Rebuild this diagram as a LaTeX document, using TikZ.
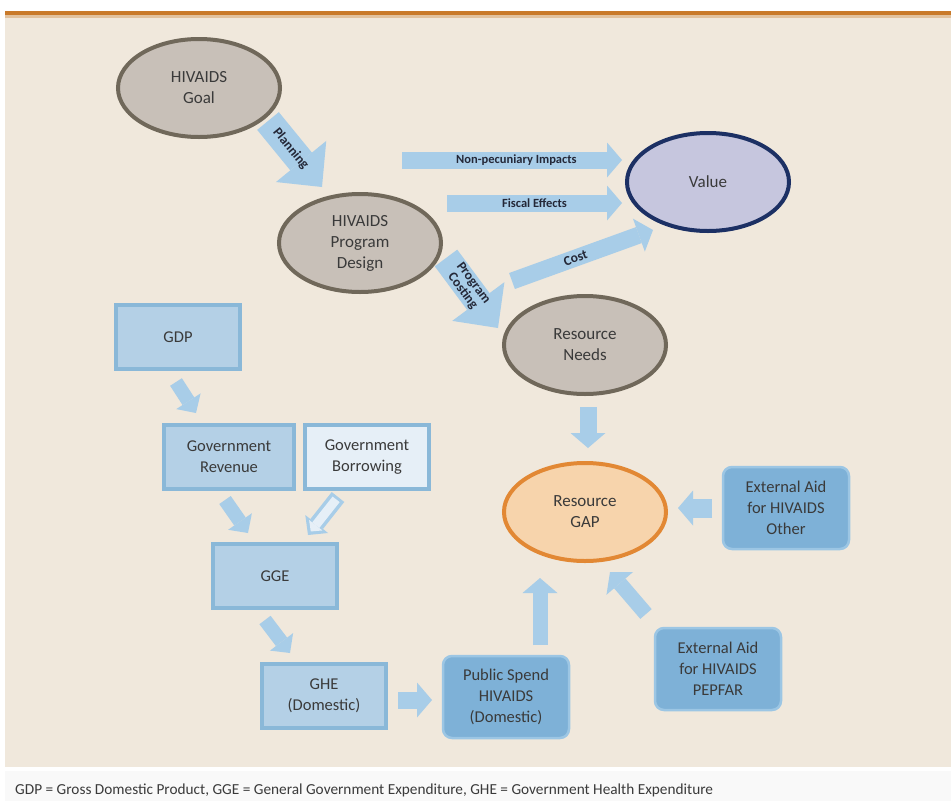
\documentclass[tikz,border=0pt]{standalone}
\usepackage{fontspec}
\setmainfont{Carlito}
\usetikzlibrary{shapes.geometric,arrows.meta}

\definecolor{bgbeige}{RGB}{240,232,220}
\definecolor{barorange}{RGB}{201,122,42}
\definecolor{ellgray}{RGB}{200,192,184}
\definecolor{ellline}{RGB}{112,104,90}
\definecolor{valfill}{RGB}{198,198,222}
\definecolor{valline}{RGB}{28,48,100}
\definecolor{gapfill}{RGB}{247,212,172}
\definecolor{gapline}{RGB}{226,136,52}
\definecolor{boxfill}{RGB}{180,208,230}
\definecolor{boxline}{RGB}{138,184,216}
\definecolor{borfill}{RGB}{230,239,247}
\definecolor{aidfill}{RGB}{126,177,215}
\definecolor{aidline}{RGB}{156,198,228}
\definecolor{flowblue}{RGB}{168,205,232}
\definecolor{txtgray}{RGB}{58,58,58}
\definecolor{lbltxt}{RGB}{36,40,56}

\tikzset{
  oval/.style={ellipse, draw=ellline, fill=ellgray, line width=4pt, inner sep=0pt,
    minimum width=162pt, minimum height=98pt, text=txtgray, align=center,
    font=\fontsize{17}{21}\selectfont},
  sqbox/.style={rectangle, draw=boxline, fill=boxfill, line width=4pt,
    minimum width=124pt, minimum height=64pt, text=txtgray, align=center,
    font=\fontsize{16.5}{21}\selectfont},
  aidbox/.style={rectangle, rounded corners=9pt, draw=aidline, fill=aidfill, line width=2.5pt,
    minimum width=126pt, minimum height=82pt, text=txtgray, align=center,
    font=\fontsize{16.5}{21}\selectfont},
  flow/.style={draw=flowblue, line width=17pt, -{Triangle[length=15pt,width=35pt,line width=0pt]}},
  bigflow/.style={draw=flowblue, line width=28pt, -{Triangle[length=33pt,width=65pt,line width=0pt]}},
  smallflow/.style={draw=flowblue, line width=14pt, -{Triangle[length=14pt,width=29pt,line width=0pt]}},
  lbl/.style={sloped, text=lbltxt, align=center, inner sep=1pt, font=\bfseries\fontsize{12.5}{13}\selectfont},
  biglbl/.style={lbl, font=\bfseries\fontsize{13.5}{13.5}\selectfont}
}

\begin{document}
\begin{tikzpicture}[x=1pt, y=-1pt]
  \useasboundingbox (0,0) rectangle (951,801);
  % page and frame
  \fill[white] (0,0) rectangle (951,801);
  \fill[bgbeige] (5,15) rectangle (951,767);
  \fill[barorange] (5,11) rectangle (951,15);
  \fill[barorange!35!bgbeige] (5,15) rectangle (951,17.5);
  \fill[gray!5] (5,771) rectangle (951,801);

  % ovals
  \node[oval] (goal) at (199,88) {HIVAIDS\\Goal};
  \node[oval] (design) at (360,243) {HIVAIDS\\Program\\Design};
  \node[oval, draw=valline, fill=valfill] (value) at (708,182) {Value};
  \node[oval] (needs) at (585,345) {Resource\\Needs};
  \node[oval, draw=gapline, fill=gapfill] (gap) at (585,512) {Resource\\GAP};

  % boxes
  \node[sqbox] (gdp) at (178,337) {GDP};
  \node[sqbox, minimum width=130pt] (rev) at (229,457) {Government\\Revenue};
  \node[sqbox, fill=borfill] (bor) at (367,457) {Government\\Borrowing};
  \node[sqbox] (gge) at (275,576) {GGE};
  \node[sqbox] (ghe) at (324,696) {GHE\\(Domestic)};
  \node[aidbox] (pub) at (506,697) {Public Spend\\HIVAIDS\\(Domestic)};
  \node[aidbox] (other) at (786,508) {External Aid\\for HIVAIDS\\Other};
  \node[aidbox] (pepfar) at (718,669) {External Aid\\for HIVAIDS\\PEPFAR};

  % upper flows
  \draw[bigflow] ([shift={(69,33)}]goal.center) -- ([shift={(-38,-56)}]design.center)
    node[biglbl, pos=0.42] {Planning};
  \draw[flow] ([shift={(42,-83)}]design.center) -- ([shift={(-86,-22)}]value.center)
    node[lbl, pos=0.52] {Non-pecuniary Impacts};
  \draw[flow] ([shift={(87,-40)}]design.center) -- ([shift={(-86,21)}]value.center)
    node[lbl, midway] {Fiscal Effects};
  \draw[bigflow] ([shift={(86,15)}]design.center) -- ([shift={(-87,-17)}]needs.center)
    node[biglbl, pos=0.42] {Program\\Costing};
  \draw[flow] ([shift={(-73,-64)}]needs.center) -- ([shift={(-55,48)}]value.center)
    node[biglbl, pos=0.45] {Cost};
  \draw[flow] ([shift={(3,62)}]needs.center) -- ([shift={(3,-64)}]gap.center);

  % lower flows
  \draw[smallflow] ([shift={(-2,45)}]gdp.center) -- ([shift={(-33,-44)}]rev.center);
  \draw[smallflow] ([shift={(-4,43)}]rev.center) -- ([shift={(-27,-43)}]gge.center);
  \draw[smallflow, line width=16pt] ([shift={(-29,40)}]bor.center) -- ([shift={(33,-41)}]gge.center);
  \draw[draw=borfill, line width=9pt, -{Triangle[length=8pt,width=17pt,line width=0pt]},
    shorten <=3pt, shorten >=4.5pt] ([shift={(-29,40)}]bor.center) -- ([shift={(33,-41)}]gge.center);
  \draw[smallflow] ([shift={(-10,44)}]gge.center) -- ([shift={(-34,-43)}]ghe.center);
  \draw[flow] ([shift={(74,4)}]ghe.center) -- ([shift={(-74,3)}]pub.center);
  \draw[flow, line width=15pt] ([shift={(34,-52)}]pub.center) -- ([shift={(-45,66)}]gap.center);
  \draw[flow, line width=15pt] ([shift={(-72,-55)}]pepfar.center) -- ([shift={(25,60)}]gap.center);
  \draw[flow, line width=19pt] ([shift={(-74,0)}]other.center) -- ([shift={(93,-4)}]gap.center);

  % footnote
  \node[anchor=west, text=txtgray, inner sep=0pt, font=\fontsize{15.3}{17}\selectfont] (note) at (15,790)
    {GDP = Gross Domestic Product, GGE = General Government Expenditure, GHE = Government Health Expenditure};
\end{tikzpicture}
\end{document}
